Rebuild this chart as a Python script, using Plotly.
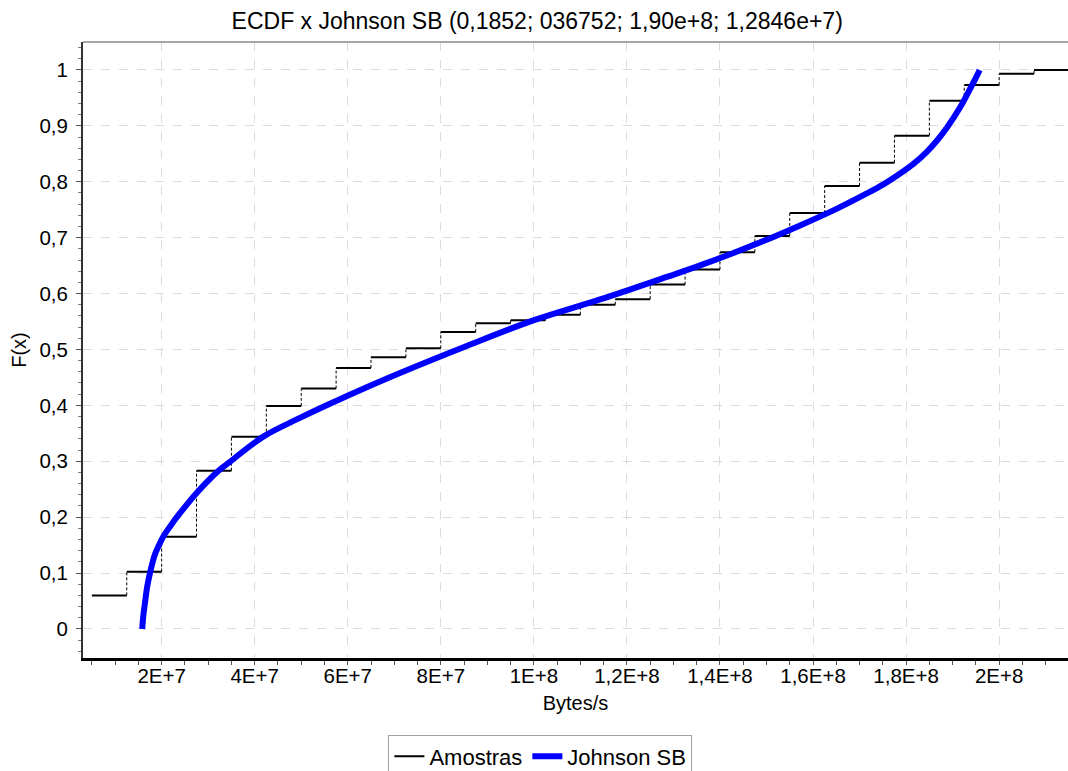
import plotly.graph_objects as go

# Empirical CDF: bin edges (bytes/s) and cumulative level of each step
bin_edges = [5.0e6, 1.25e7, 2.0e7, 2.75e7, 3.5e7, 4.25e7, 5.0e7, 5.75e7, 6.5e7, 7.25e7,
             8.0e7, 8.75e7, 9.5e7, 1.025e8, 1.10e8, 1.175e8, 1.25e8, 1.325e8, 1.40e8,
             1.475e8, 1.55e8, 1.625e8, 1.70e8, 1.775e8, 1.85e8, 1.925e8, 2.0e8,
             2.075e8, 2.15e8]
ecdf_levels = [0.060, 0.1025, 0.165, 0.283, 0.344, 0.399, 0.430, 0.467, 0.486, 0.502,
               0.531, 0.547, 0.552, 0.562, 0.580, 0.590, 0.616, 0.643, 0.674, 0.703,
               0.744, 0.7925, 0.834, 0.8825, 0.945, 0.973, 0.993, 1.000]

# Fitted Johnson SB CDF
fit_x = [1.583e7, 1.604e7, 1.641e7, 1.690e7, 1.748e7, 1.819e7, 1.870e7, 1.927e7, 2.034e7,
         2.178e7, 2.393e7, 2.752e7, 3.217e7, 3.468e7, 4.184e7, 4.973e7, 5.689e7, 6.407e7,
         7.123e7, 8.557e7, 9.989e7, 1.1423e8, 1.2857e8, 1.3573e8, 1.4288e8, 1.5148e8,
         1.5722e8, 1.6438e8, 1.7156e8, 1.7513e8, 1.7872e8, 1.8158e8, 1.8446e8, 1.8661e8,
         1.8876e8, 1.9162e8, 1.9377e8, 1.9521e8, 1.9581e8]
fit_F = [0.0, 0.022, 0.046, 0.0757, 0.0996, 0.1234, 0.1365, 0.1472, 0.1651,
         0.183, 0.207, 0.2433, 0.2826, 0.299, 0.344, 0.3775, 0.4055, 0.4324,
         0.458, 0.5063, 0.5519, 0.5894, 0.6297, 0.6503, 0.6726, 0.7013,
         0.7218, 0.7487, 0.7791, 0.7954, 0.8148, 0.832, 0.8536, 0.8734,
         0.8966, 0.9332, 0.9665, 0.9895, 1.0]

x_tickvals = [2e7, 4e7, 6e7, 8e7, 1e8, 1.2e8, 1.4e8, 1.6e8, 1.8e8, 2e8]
x_ticktext = ["2E+7", "4E+7", "6E+7", "8E+7", "1E+8", "1,2E+8", "1,4E+8", "1,6E+8", "1,8E+8", "2E+8"]
y_tickvals = [0, 0.1, 0.2, 0.3, 0.4, 0.5, 0.6, 0.7, 0.8, 0.9, 1.0]
y_ticktext = ["0", "0,1", "0,2", "0,3", "0,4", "0,5", "0,6", "0,7", "0,8", "0,9", "1"]

FONT = "Arial, Liberation Sans, sans-serif"

# horizontal (solid) and vertical (dashed) parts of the step function
hx, hy, vx, vy = [], [], [], []
for i, lvl in enumerate(ecdf_levels):
    hx += [bin_edges[i], bin_edges[i + 1], None]
    hy += [lvl, lvl, None]
    if i > 0:
        vx += [bin_edges[i], bin_edges[i], None]
        vy += [ecdf_levels[i - 1], lvl, None]

fig = go.Figure()
fig.add_trace(go.Scatter(x=vx, y=vy, mode="lines", showlegend=False, hoverinfo="skip",
                         line=dict(color="black", width=1, dash="3px,2px")))
fig.add_trace(go.Scatter(x=hx, y=hy, mode="lines", name="Amostras",
                         line=dict(color="black", width=2)))
fig.add_trace(go.Scatter(x=fit_x, y=fit_F, mode="lines", name="Johnson SB",
                         line=dict(color="#0000ff", width=6, shape="spline", smoothing=1)))

fig.update_layout(
    width=1068, height=771,
    margin=dict(l=83, r=0, t=42, b=113, autoexpand=False),
    paper_bgcolor="white", plot_bgcolor="white",
    font=dict(family=FONT, size=20, color="black"),
    title=dict(text="ECDF x Johnson SB (0,1852; 036752; 1,90e+8; 1,2846e+7)",
               x=0.503, xref="container", xanchor="center",
               y=1 - 21 / 771, yref="container", yanchor="middle",
               font=dict(family=FONT, size=23, color="black")),
    legend=dict(orientation="h", xref="container", yref="paper",
                x=0.506, xanchor="center", y=-0.16, yanchor="middle",
                bordercolor="#a0a0a0", borderwidth=1, bgcolor="white",
                font=dict(family=FONT, size=22, color="black"),
                itemwidth=30, tracegroupgap=0),
    shapes=[dict(type="line", xref="paper", yref="paper", x0=0, x1=1, y0=1, y1=1,
                 line=dict(color="#8a8a8a", width=1.5))],
)

fig.update_xaxes(
    range=[3.1e6, 2.148e8], tickmode="array", tickvals=x_tickvals, ticktext=x_ticktext,
    showline=True, linecolor="black", linewidth=2.5,
    ticks="outside", ticklen=4, tickcolor="#555", tickwidth=1,
    showgrid=True, gridcolor="#dcdcdc", griddash="dash", gridwidth=1,
    zeroline=False, ticklabelstandoff=-6,
    minor=dict(dtick=5e6, tick0=0, ticks="outside", ticklen=4, tickcolor="#555", showgrid=False),
    title=dict(text="Bytes/s", standoff=10, font=dict(family=FONT, size=20)),
    tickfont=dict(family=FONT, size=20.5),
)
fig.update_yaxes(
    range=[-0.052, 1.05], tickmode="array", tickvals=y_tickvals, ticktext=y_ticktext,
    showline=True, linecolor="#333", linewidth=2,
    ticks="outside", ticklen=5, tickcolor="#555", tickwidth=1,
    showgrid=True, gridcolor="#dcdcdc", griddash="dash", gridwidth=1,
    zeroline=False, ticklabelstandoff=4,
    minor=dict(dtick=0.02, tick0=0, ticks="outside", ticklen=3, tickcolor="#777", showgrid=False),
    title=dict(text="F(x)", standoff=7, font=dict(family=FONT, size=20)),
    tickfont=dict(family=FONT, size=20.5),
)

fig.write_html("out.html")
